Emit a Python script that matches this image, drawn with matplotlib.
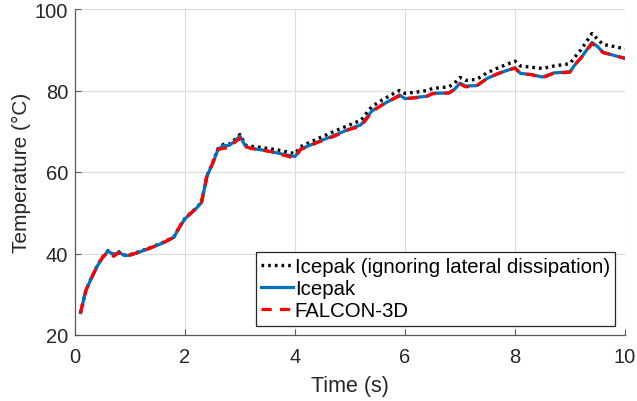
import matplotlib
matplotlib.use("Agg")
import matplotlib.pyplot as plt

t = [0.1, 0.2, 0.3, 0.4, 0.5, 0.6, 0.7, 0.8, 0.9, 1.0, 1.2, 1.4, 1.6, 1.8, 1.9,
     2.0, 2.1, 2.2, 2.3, 2.4, 2.5, 2.6, 2.7, 2.8, 2.9, 3.0, 3.1, 3.2, 3.4, 3.6,
     3.8, 4.0, 4.1, 4.4, 4.7, 5.0, 5.2, 5.4, 5.6, 5.8, 5.9, 6.0, 6.2, 6.4, 6.5,
     6.8, 6.9, 7.0, 7.1, 7.3, 7.5, 7.7, 8.0, 8.1, 8.3, 8.5, 8.7, 9.0, 9.1, 9.2,
     9.4, 9.5, 9.6, 9.8, 10.0]

icepak = [25.5, 31.0, 34.0, 36.8, 39.0, 40.6, 39.7, 40.3, 39.5, 39.6, 40.5, 41.5,
          42.6, 44.0, 46.5, 48.5, 49.8, 51.0, 52.5, 59.0, 62.0, 65.5, 66.5, 66.5,
          67.5, 68.8, 66.3, 65.8, 65.4, 64.9, 64.3, 63.8, 65.6, 67.3, 68.9, 70.6,
          71.6, 75.0, 76.6, 78.1, 78.9, 78.0, 78.3, 78.6, 79.3, 79.4, 80.3, 81.8,
          81.1, 81.2, 83.0, 84.2, 85.6, 84.2, 83.9, 83.3, 84.3, 84.6, 86.5, 88.0,
          91.8, 90.8, 89.4, 88.6, 87.9]

falcon = [25.3, 31.0, 34.0, 36.8, 39.0, 40.4, 39.3, 40.2, 39.4, 39.6, 40.5, 41.5,
          42.6, 44.0, 46.5, 48.5, 49.8, 51.0, 52.5, 59.0, 62.0, 65.5, 65.8, 66.0,
          67.2, 68.3, 66.2, 65.8, 65.4, 64.9, 64.1, 63.4, 65.5, 67.2, 68.7, 70.5,
          71.2, 74.8, 76.6, 78.0, 78.7, 78.0, 78.2, 78.6, 79.2, 79.4, 80.2, 81.6,
          80.9, 81.1, 83.0, 84.2, 85.5, 84.1, 83.9, 83.1, 84.2, 84.5, 86.5, 88.0,
          91.5, 90.7, 89.3, 88.6, 87.9]

icepak_nolat = [25.5, 31.1, 34.1, 36.9, 39.1, 40.7, 39.8, 40.4, 39.6, 39.7, 40.6,
                41.6, 42.7, 44.1, 46.6, 48.6, 49.9, 51.1, 52.6, 59.1, 62.2, 65.7,
                66.8, 66.8, 67.9, 69.2, 66.6, 66.3, 66.0, 65.6, 65.1, 64.5, 66.2,
                68.1, 69.9, 71.6, 72.7, 76.1, 77.8, 79.3, 80.0, 79.3, 79.6, 80.0,
                80.5, 80.9, 81.8, 83.2, 82.5, 82.7, 84.4, 85.6, 87.2, 86.0, 85.7,
                85.4, 86.0, 86.6, 88.4, 90.0, 94.0, 92.6, 91.3, 90.8, 90.2]

labels = ["Icepak (ignoring lateral dissipation)", "Icepak", "FALCON-3D"]
xticks = [0, 2, 4, 6, 8, 10]
yticks = [20, 40, 60, 80, 100]

plt.rcParams['font.family'] = ['Liberation Sans', 'DejaVu Sans']
gray = '#262626'

fig = plt.figure(figsize=(6.37, 4.02), dpi=100)
ax = fig.add_axes([75/637, 1-336/402, 550/637, 326/402])

ax.plot(t, icepak_nolat, color='black', lw=2.4, linestyle=(0, (0.8, 1.2)),
        label=labels[0])
ax.plot(t, icepak, color='#0072BD', lw=2.3, label=labels[1])
ax.plot(t, falcon, color='#FF0000', lw=2.3, linestyle=(0, (3.2, 2.6)),
        label=labels[2])

ax.set_xlim(0, 10)
ax.set_ylim(20, 100)
ax.set_xticks(xticks)
ax.set_yticks(yticks)
ax.grid(True, color='#dcdcdc', lw=0.8)
ax.set_axisbelow(True)
for s in ['top', 'right']:
    ax.spines[s].set_visible(False)
for s in ['left', 'bottom']:
    ax.spines[s].set_color('#5a5a5a')
    ax.spines[s].set_linewidth(0.9)
ax.tick_params(direction='in', length=4, width=0.8, colors='#5a5a5a',
               labelcolor=gray, labelsize=14.5)
ax.tick_params(axis='x', pad=9)
ax.tick_params(axis='y', pad=5)

ax.set_xlabel('Time (s)', fontsize=15.5, color=gray, labelpad=6)
ax.set_ylabel('Temperature (°C)', fontsize=15, color=gray, labelpad=3)

leg = ax.legend(loc='lower right', bbox_to_anchor=(0.982, 0.029),
                borderaxespad=0, fancybox=False, fontsize=14.7,
                handlelength=1.55, handletextpad=0.1, labelspacing=0.15,
                borderpad=0.25, framealpha=1)
leg.get_frame().set_edgecolor(gray)
leg.get_frame().set_linewidth(0.9)
for txt in leg.get_texts():
    txt.set_color('black')

fig.savefig('out.png', dpi=100)
